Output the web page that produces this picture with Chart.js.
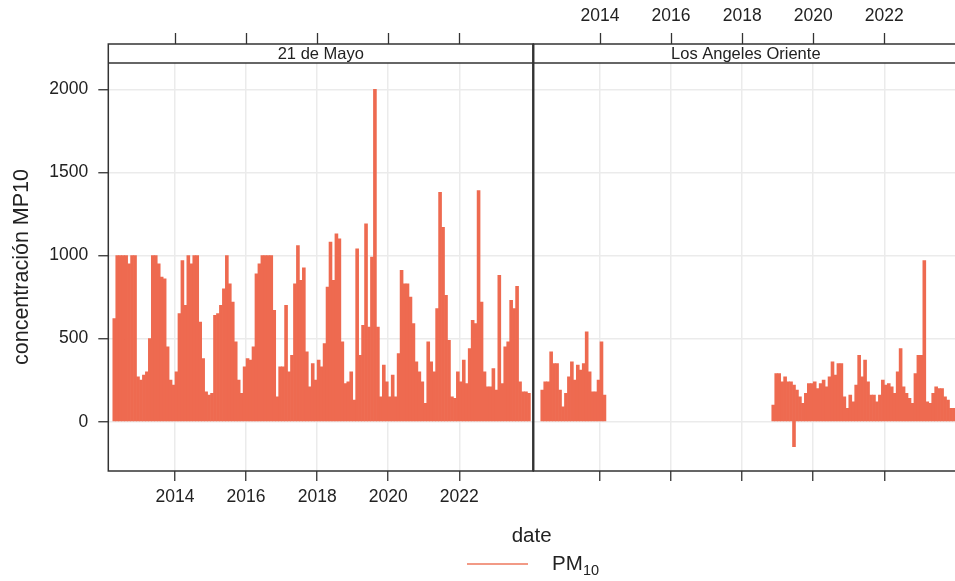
<!DOCTYPE html>
<html>
<head>
<meta charset="utf-8">
<script src="https://cdn.jsdelivr.net/npm/chart.js@4.4.1/dist/chart.umd.min.js"></script>
<style>
  html, body { margin: 0; padding: 0; background: #fff; }
  canvas { display: block; }
</style>
</head>
<body>
<canvas id="pm10Chart" width="955" height="581"></canvas>
<script>
// panels and axis ticks
const stations = ["21 de Mayo", "Los Angeles Oriente"];
const yearTicks = [2014, 2016, 2018, 2020, 2022];
const concentrationTicks = [0, 500, 1000, 1500, 2000];

// monthly maxima of MP10 (ug/m3)
const mayoStart = "2012-04";
const mayoMax = [
  620, 1000, 1000, 1000, 1000, 950, 1000, 1000, 270,
  250, 280, 300, 500, 1000, 1000, 950, 870, 860, 450, 250, 220,
  300, 650, 970, 700, 1000, 950, 1000, 1000, 600, 380, 180, 160,
  170, 640, 650, 700, 800, 1000, 830, 720, 480, 250, 170, 330,
  380, 370, 450, 890, 950, 1000, 1000, 1000, 1000, 670, 150, 330,
  330, 700, 300, 400, 830, 1060, 850, 925, 420, 210, 350, 250,
  370, 330, 470, 810, 1080, 850, 1130, 1100, 480, 230, 240, 300,
  130, 1040, 400, 580, 1190, 570, 990, 2000, 570, 150, 340, 240,
  150, 280, 150, 410, 910, 830, 830, 750, 590, 360, 300, 240,
  110, 480, 360, 300, 680, 1380, 1170, 760, 490, 150, 140, 300,
  240, 370, 230, 440, 610, 590, 1390, 720, 300, 210, 210, 320,
  190, 880, 230, 450, 480, 730, 680, 815, 240, 180, 180, 170
];

const orienteEarlyStart = "2012-05";
const orienteEarlyMax = [
  190, 240, 240, 420, 350, 350, 190, 90,
  170, 270, 360, 250, 340, 310, 350, 540, 300, 180, 180, 250,
  480, 160
];

const orienteLateStart = "2018-11";
const orienteLateMax = [
  100, 290,
  290, 240, 270, 240, 240, 220, 190, 150, 110, 170, 230, 230,
  240, 200, 230, 250, 210, 270, 360, 280, 350, 350, 150, 80,
  160, 120, 220, 400, 270, 370, 240, 160, 160, 120, 160, 250,
  220, 230, 210, 170, 300, 440, 210, 170, 140, 110, 290, 400,
  400, 970, 120, 110, 170, 210, 200, 200, 150, 130, 80, 80
];
const orienteMin = { "2019-06": -150 };

// layout (pixels) and scale ranges
const PX_PER_YEAR = 35.54;
const AREA_LEFT = 108.3, AREA_TOP = 63, AREA_BOTTOM = 471, STRIP_TOP = 44;
const X_MIN = 2012.123;
const PANEL_YEARS = 425 / PX_PER_YEAR;
const X_MAX = X_MIN + (955 - AREA_LEFT) / PX_PER_YEAR;
const Y_MIN = -296.6, Y_MAX = 2158;

const BAR_COLOR = "#ee6a50";
const INK = "#222";
const FONT = "'Liberation Sans', Arial, Helvetica, sans-serif";

function monthKey(start, i) {
  const [y, m] = start.split("-").map(Number);
  const k = m - 1 + i;
  return [y + Math.floor(k / 12), k % 12];
}

function toBars(start, values, shift, mins) {
  return values.map((v, i) => {
    const [y, m] = monthKey(start, i);
    const key = y + "-" + String(m + 1).padStart(2, "0");
    const lo = mins && mins[key] !== undefined ? mins[key] : 0;
    return { x: y + (m + 0.5) / 12 + shift, y: [lo, v] };
  });
}

const leftBars = toBars(mayoStart, mayoMax, 0);
const rightBars = toBars(orienteEarlyStart, orienteEarlyMax, PANEL_YEARS, orienteMin)
  .concat(toBars(orienteLateStart, orienteLateMax, PANEL_YEARS, orienteMin));

const bothPanelTicks = yearTicks.concat(yearTicks.map(t => t + PANEL_YEARS));

// strips, panel boxes and legend
const panelFrame = {
  id: "panelFrame",
  afterDraw(chart) {
    const { ctx, chartArea: a, scales: { x } } = chart;
    const split = x.getPixelForValue(X_MIN + PANEL_YEARS);
    const rightEnd = split + (split - a.left);
    ctx.save();
    ctx.fillStyle = "#fff";
    ctx.fillRect(a.left, STRIP_TOP, a.right - a.left + 2, a.top - STRIP_TOP);

    ctx.strokeStyle = "#333";
    ctx.lineWidth = 1.5;
    ctx.strokeRect(a.left, STRIP_TOP, split - a.left, a.bottom - STRIP_TOP);
    ctx.strokeRect(split, STRIP_TOP, rightEnd - split, a.bottom - STRIP_TOP);
    ctx.beginPath();
    ctx.moveTo(a.left, a.top);
    ctx.lineTo(a.right + 2, a.top);
    ctx.stroke();
    ctx.lineWidth = 2.2;
    ctx.beginPath();
    ctx.moveTo(split, STRIP_TOP);
    ctx.lineTo(split, a.bottom);
    ctx.stroke();

    ctx.fillStyle = INK;
    ctx.font = "16.5px " + FONT;
    ctx.textAlign = "center";
    ctx.textBaseline = "middle";
    const sy = (STRIP_TOP + a.top) / 2 + 1;
    ctx.fillText(stations[0], (a.left + split) / 2, sy);
    ctx.fillText(stations[1], (split + rightEnd) / 2, sy);

    // legend
    ctx.strokeStyle = "#f29a86";
    ctx.lineWidth = 2;
    ctx.beginPath();
    ctx.moveTo(467, 564);
    ctx.lineTo(528, 564);
    ctx.stroke();
    ctx.textAlign = "left";
    ctx.font = "20.5px " + FONT;
    ctx.fillText("PM", 552, 564);
    ctx.font = "14.5px " + FONT;
    ctx.fillText("10", 583, 571);
    ctx.restore();
  }
};

new Chart(document.getElementById("pm10Chart"), {
  type: "bar",
  data: {
    datasets: [
      { label: stations[0], data: leftBars, backgroundColor: BAR_COLOR, borderWidth: 0, grouped: false, barPercentage: 1, categoryPercentage: 1 },
      { label: stations[1], data: rightBars, backgroundColor: BAR_COLOR, borderWidth: 0, grouped: false, barPercentage: 1, categoryPercentage: 1 }
    ]
  },
  options: {
    responsive: false,
    animation: false,
    layout: { padding: 0 },
    plugins: { legend: { display: false }, tooltip: { enabled: false } },
    scales: {
      x: {
        type: "linear",
        position: "bottom",
        offset: false,
        min: X_MIN,
        max: X_MAX,
        afterBuildTicks: s => { s.ticks = bothPanelTicks.map(v => ({ value: v })); },
        afterFit: s => { s.height = 581 - AREA_BOTTOM; },
        grid: { offset: false, color: "#ebebeb", lineWidth: 1.5, tickColor: "#333", tickLength: 10, tickWidth: 1.3 },
        border: { display: false },
        ticks: {
          color: INK, font: { family: FONT, size: 17.5 }, padding: 6, maxRotation: 0, autoSkip: false,
          callback: v => (v < X_MIN + PANEL_YEARS ? String(Math.round(v)) : "")
        },
        title: { display: true, text: "date", color: INK, font: { family: FONT, size: 20.5 }, padding: { top: 0, bottom: 32 } }
      },
      x2: {
        type: "linear",
        position: "top",
        offset: false,
        min: X_MIN,
        max: X_MAX,
        afterBuildTicks: s => { s.ticks = bothPanelTicks.map(v => ({ value: v })); },
        afterFit: s => { s.height = AREA_TOP; },
        grid: { offset: false, drawOnChartArea: false, tickColor: "#333", tickLength: 30, tickWidth: 1.3 },
        border: { display: false },
        ticks: {
          color: INK, font: { family: FONT, size: 17.5 }, padding: 6, maxRotation: 0, autoSkip: false,
          callback: v => (v > X_MIN + PANEL_YEARS ? String(Math.round(v - PANEL_YEARS)) : "")
        }
      },
      y: {
        type: "linear",
        min: Y_MIN,
        max: Y_MAX,
        afterBuildTicks: s => { s.ticks = concentrationTicks.map(v => ({ value: v })); },
        afterFit: s => { s.width = AREA_LEFT; },
        grid: { color: "#ebebeb", lineWidth: 1.5, tickColor: "#333", tickLength: 10, tickWidth: 1.3 },
        border: { display: false },
        ticks: { color: INK, font: { family: FONT, size: 17.5 }, padding: 10, callback: v => String(v) },
        title: { display: true, text: "concentración MP10", color: INK, font: { family: FONT, size: 21.5 }, padding: { top: 9, bottom: 0 } }
      }
    }
  },
  plugins: [panelFrame]
});
</script>
</body>
</html>
